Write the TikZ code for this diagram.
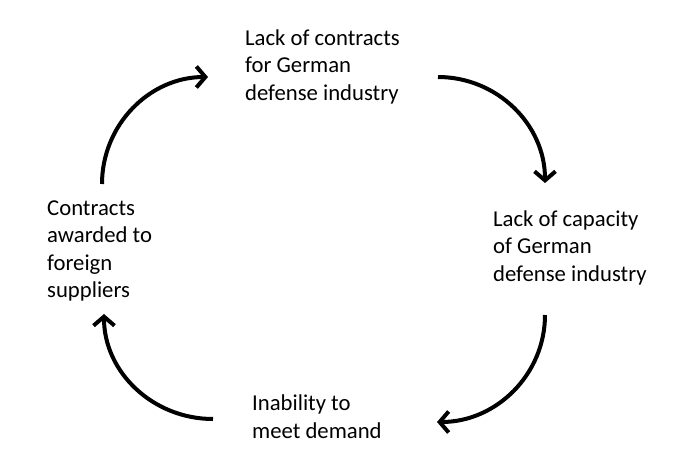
\documentclass[tikz,border=0pt]{standalone}
\usepackage{fontspec}
\setmainfont{Carlito}
\usetikzlibrary{arrows.meta}
\begin{document}
\begin{tikzpicture}[x=1pt,y=-1pt,
  lbl/.style={anchor=base west,inner sep=0pt,align=left,font=\fontsize{22.7}{27.5}\selectfont},
  cyc/.style={line width=4pt,-{Straight Barb[length=9pt,width=21pt,line join=miter]}}]
\useasboundingbox[fill=white] (0,0) rectangle (680,474);
\node[lbl] (top) at (245,100) {Lack of contracts\\for German\\defense industry};
\node[lbl] (right) at (493,281) {Lack of capacity\\of German\\defense industry};
\node[lbl] (bottom) at (252,438) {Inability to\\meet demand};
\node[lbl] (left) at (47,297.5) {Contracts\\awarded to\\foreign\\suppliers};
\coordinate (a1s) at (102,184); \coordinate (a1e) at (208,77);
\coordinate (a2s) at (438,77);  \coordinate (a2e) at (545,183);
\coordinate (a3s) at (545,315); \coordinate (a3e) at (437,422);
\coordinate (a4s) at (213,419); \coordinate (a4e) at (104,314);
\draw[cyc] (a1s) .. controls (102,124.9) and (149.5,77) .. (a1e);
\draw[cyc] (a2s) .. controls (497.1,77) and (545,124.5) .. (a2e);
\draw[cyc] (a3s) .. controls (545,374.1) and (496.6,422) .. (a3e);
\draw[cyc] (a4s) .. controls (152.8,419) and (104,372) .. (a4e);
\end{tikzpicture}
\end{document}
